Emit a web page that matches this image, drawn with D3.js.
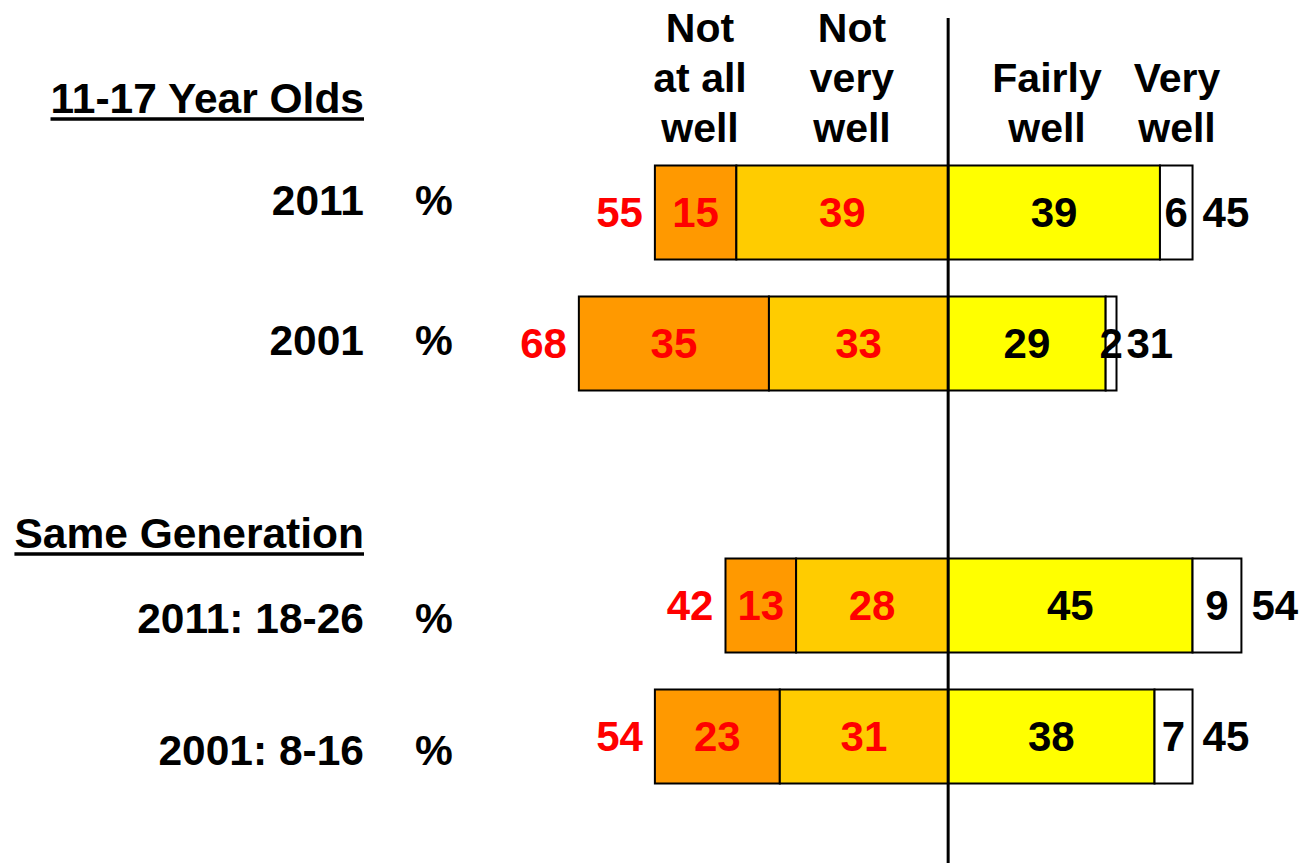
<!DOCTYPE html>
<html>
<head>
<meta charset="utf-8">
<script src="https://cdn.jsdelivr.net/npm/d3@7"></script>
<style>
  body { margin: 0; background: #fff; }
  svg text { font-family: "Liberation Sans", Arial, sans-serif; font-weight: bold; }
</style>
</head>
<body>
<div class="chart"></div>
<script>
// data
const categories = ['2011', '2001', '2011: 18-26', '2001: 8-16'];
const groupTitles = ['11-17 Year Olds', 'Same Generation'];
const responses = ['Not at all well', 'Not very well', 'Fairly well', 'Very well'];
const notAtAllWell = [15, 35, 13, 23];
const notVeryWell = [39, 33, 28, 31];
const fairlyWell = [39, 29, 45, 38];
const veryWell = [6, 2, 9, 7];
const netNotWell = [55, 68, 42, 54];
const netWell = [45, 31, 54, 45];

const colors = ['#FF9900', '#FFCC00', '#FFFF00', '#FFFFFF'];

const width = 1301,
      height = 863;

const svg = d3.select('.chart')
              .append('svg')
              .attr('width', width)
              .attr('height', height);

const x = d3.scaleLinear()
            .domain([-70, 60])
            .range([568, 1274]);

// a spacer slot gives the gap between the two groups
const slots = [categories[0], categories[1], '', categories[2], categories[3]];
const y = d3.scaleBand()
            .domain(slots)
            .range([147, 802])
            .paddingInner(0.2824)
            .paddingOuter(0.1412);

const rows = categories.map((c, i) => {
  const vals = [-notAtAllWell[i] - notVeryWell[i], -notVeryWell[i], 0, fairlyWell[i], fairlyWell[i] + veryWell[i]];
  const segs = [
    {x0: vals[0], x1: vals[1], v: notAtAllWell[i], k: 0},
    {x0: vals[1], x1: vals[2], v: notVeryWell[i], k: 1},
    {x0: vals[2], x1: vals[3], v: fairlyWell[i], k: 2},
    {x0: vals[3], x1: vals[4], v: veryWell[i], k: 3}
  ];
  return {name: c, segs: segs, left: vals[0], right: vals[4], netNot: netNotWell[i], netWell: netWell[i]};
});

const rowG = svg.selectAll('g.row')
                .data(rows)
                .enter()
                .append('g')
                .attr('class', 'row')
                .attr('transform', d => 'translate(0,' + y(d.name) + ')');

const bh = y.bandwidth();

rowG.selectAll('rect')
    .data(d => d.segs)
    .enter()
    .append('rect')
    .attr('x', d => x(d.x0))
    .attr('y', 0)
    .attr('width', d => x(d.x1) - x(d.x0))
    .attr('height', bh)
    .attr('fill', d => colors[d.k])
    .attr('stroke', '#000')
    .attr('stroke-width', 2);

rowG.selectAll('text.seg')
    .data(d => d.segs)
    .enter()
    .append('text')
    .attr('class', 'seg')
    .attr('x', d => (x(d.x0) + x(d.x1)) / 2)
    .attr('y', bh / 2 + 15)
    .attr('text-anchor', 'middle')
    .attr('font-size', 42)
    .attr('fill', d => d.k < 2 ? '#FF0000' : '#000')
    .text(d => d.v);

rowG.append('text')
    .attr('x', d => x(d.left) - 12)
    .attr('y', bh / 2 + 15)
    .attr('text-anchor', 'end')
    .attr('font-size', 42)
    .attr('fill', '#FF0000')
    .text(d => d.netNot);

rowG.append('text')
    .attr('x', d => x(d.right) + 10)
    .attr('y', bh / 2 + 15)
    .attr('text-anchor', 'start')
    .attr('font-size', 42)
    .attr('fill', '#000')
    .text(d => d.netWell);

// centre line
svg.append('line')
   .attr('x1', x(0)).attr('x2', x(0))
   .attr('y1', 18).attr('y2', height)
   .attr('stroke', '#000')
   .attr('stroke-width', 3);

// column headings
const headLines = [['Not', 'at all', 'well'], ['Not', 'very', 'well'], ['', 'Fairly', 'well'], ['', 'Very', 'well']];
const headX = [700, 852, 1047, 1177];
responses.forEach((r, i) => {
  const t = svg.append('text')
               .attr('text-anchor', 'middle')
               .attr('font-size', 41)
               .attr('fill', '#000');
  headLines[i].forEach((ln, j) => {
    t.append('tspan').attr('x', headX[i]).attr('y', 42 + j * 50).text(ln);
  });
});

// row labels
const labelBaselines = [215, 355, 633, 765];
categories.forEach((c, i) => {
  svg.append('text')
     .attr('x', 364).attr('y', labelBaselines[i])
     .attr('text-anchor', 'end')
     .attr('font-size', 42.5)
     .text(c);
  svg.append('text')
     .attr('x', 434).attr('y', labelBaselines[i])
     .attr('text-anchor', 'middle')
     .attr('font-size', 42.5)
     .text('%');
});

// group titles, underlined
const titleBaselines = [113, 548];
groupTitles.forEach((g, i) => {
  const t = svg.append('text')
               .attr('x', 364).attr('y', titleBaselines[i])
               .attr('text-anchor', 'end')
               .attr('font-size', 42.5)
               .text(g);
  const w = t.node().getComputedTextLength();
  svg.append('line')
     .attr('x1', 364 - w).attr('x2', 364)
     .attr('y1', titleBaselines[i] + 6).attr('y2', titleBaselines[i] + 6)
     .attr('stroke', '#000')
     .attr('stroke-width', 3.5);
});
</script>
</body>
</html>
